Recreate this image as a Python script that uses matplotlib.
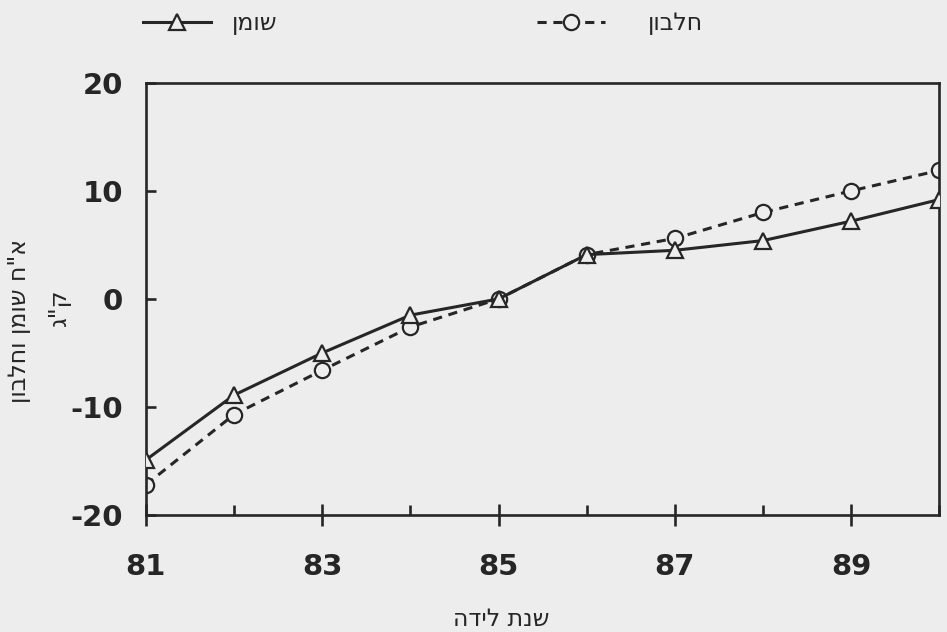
import matplotlib
matplotlib.use('Agg')
import matplotlib.pyplot as plt
from matplotlib.ticker import MultipleLocator

# ── data ──────────────────────────────────────────────────
years = [81, 82, 83, 84, 85, 86, 87, 88, 89, 90]
fat = [-14.9, -8.9, -5.0, -1.5, 0.0, 4.1, 4.5, 5.4, 7.2, 9.2]
protein = [-17.2, -10.7, -6.6, -2.6, 0.0, 4.1, 5.6, 8.0, 10.0, 11.9]
year_labels = ['81', '83', '85', '87', '89']
y_ticks = [-20, -10, 0, 10, 20]

fat_name = 'שומן'
protein_name = 'חלבון'
y_label = 'א"ח שומן וחלבון'
y_unit = 'ק"ג'
x_label = 'שנת לידה'


def rtl(s):
    # matplotlib has no bidi support, so flip Hebrew for display
    return s[::-1]


BG = '#ededed'
INK = '#262626'
HEB = 17

plt.rcParams.update({
    'font.family': ['DejaVu Sans'],
    'axes.unicode_minus': False,
    'figure.facecolor': BG,
    'axes.facecolor': BG,
    'text.color': INK,
    'axes.edgecolor': INK,
    'xtick.color': INK,
    'ytick.color': INK,
})

fig = plt.figure(figsize=(9.47, 6.32), dpi=100)
ax = fig.add_axes([0.154, 0.185, 0.838, 0.684])

l_fat, = ax.plot(years, fat, '-', color=INK, lw=2.2, marker='^', ms=11,
                 mfc=BG, mec=INK, mew=1.6, zorder=3)
l_pro, = ax.plot(years, protein, color=INK, lw=2.2, ls=(0, (3, 2.2)), marker='o',
                 ms=11, mfc=BG, mec=INK, mew=1.6, zorder=2)

ax.set_xlim(81, 90)
ax.set_ylim(-20, 20)
ax.xaxis.set_minor_locator(MultipleLocator(1))
ax.set_xticks([int(v) for v in year_labels])
ax.set_xticklabels(year_labels)
ax.set_yticks(y_ticks)
ax.set_yticklabels([str(v) for v in y_ticks])

for sp in ax.spines.values():
    sp.set_linewidth(1.9)

ax.tick_params(axis='x', which='major', direction='inout', length=16, width=1.9,
               pad=19.5, labelsize=21)
ax.tick_params(axis='x', which='minor', direction='in', length=7, width=1.9)
ax.tick_params(axis='y', which='major', direction='in', length=7, width=1.9,
               pad=16.5, labelsize=21)
for lab in ax.get_xticklabels() + ax.get_yticklabels():
    lab.set_fontweight('bold')

# axis titles
fig.text(501 / 947, 1 - 619 / 632, rtl(x_label), fontsize=HEB,
         ha='center', va='center')
fig.text(19 / 947, 1 - 321 / 632, rtl(y_label), rotation=90, fontsize=HEB,
         ha='center', va='center')
fig.text(59 / 947, 1 - 307 / 632, rtl(y_unit), rotation=90, fontsize=HEB,
         ha='center', va='center')

# legend: two entries across the top, each with its own spacing
leg_kw = dict(loc='center left', frameon=False, fontsize=HEB, handlelength=2.9,
              borderpad=0, borderaxespad=0, bbox_transform=fig.transFigure)
leg1 = ax.legend([l_fat], [rtl(fat_name)], handletextpad=0.85,
                 bbox_to_anchor=(143 / 947, 1 - 23 / 632), **leg_kw)
ax.add_artist(leg1)
ax.legend([l_pro], [rtl(protein_name)], handletextpad=1.8,
          bbox_to_anchor=(537 / 947, 1 - 23 / 632), **leg_kw)

fig.savefig('out.png', dpi=100, facecolor=BG)
